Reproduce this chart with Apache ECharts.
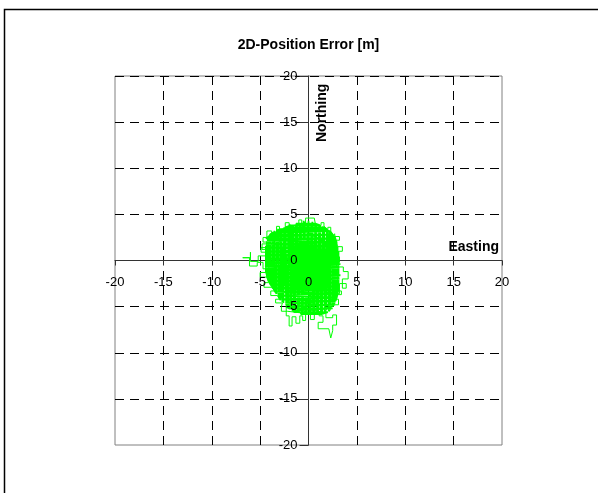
<!DOCTYPE html>
<html>
<head>
<meta charset="utf-8">
<script src="https://cdn.jsdelivr.net/npm/echarts@6/dist/echarts.min.js"></script>
<style>
  html, body { margin: 0; padding: 0; background: #fff; }
  #chart { width: 598px; height: 493px; }
</style>
</head>
<body>
<div id="chart"></div>
<script>
// Text and axis range
const chartTitle = '2D-Position Error [m]';
const eastName = 'Easting';
const northName = 'Northing';
const axisMin = -20;
const axisMax = 20;
const axisStep = 5;

// Position error trace, [east, north] in metres, split into sections of the track
const sweepNorthSouthA = [
  [-4.3, 2.1], [-4.3, -1.7], [-4.1, -2.3], [-4.1, 2.6], [-3.9, 2.9], [-3.9, -2.4],
  [-3.7, -3.0], [-3.7, 2.8], [-3.5, 3.2], [-3.5, -3.3], [-3.3, -3.6], [-3.3, 3.1],
  [-3.1, 3.4], [-3.1, -3.9], [-2.9, -4.3], [-2.9, 3.5], [-2.7, 3.3], [-2.7, -4.5],
  [-2.5, -4.7], [-2.5, 3.6], [-2.3, 3.8], [-2.3, -4.8], [-2.1, -5.1], [-2.1, 3.6],
  [-1.9, 3.9], [-1.9, -5.3], [-1.7, -5.4], [-1.7, 3.8], [-1.5, 4.0], [-1.5, -5.5],
  [-1.3, -5.7], [-1.3, 3.9], [-1.1, 4.1], [-1.1, -5.6], [-0.9, -5.8], [-0.9, 4.0],
  [-0.7, 4.2], [-0.7, -5.7], [-0.5, -5.9], [-0.5, 4.3], [-0.3, 4.2], [-0.3, -5.8],
  [-0.1, -5.9], [-0.1, 4.1], [0.1, 4.3], [0.1, -5.7], [0.3, -5.9], [0.3, 4.0],
  [0.5, 4.1], [0.5, -5.8], [0.7, -5.6], [0.7, 3.9], [0.9, 4.0], [0.9, -5.8],
  [1.1, -5.6], [1.1, 3.9], [1.3, 3.8], [1.3, -5.7], [1.5, -5.5], [1.5, 3.7],
  [1.7, 3.6], [1.7, -5.6], [1.9, -5.4], [1.9, 3.4], [2.1, 3.3], [2.1, -5.5],
  [2.3, -5.2], [2.3, 3.1], [2.5, 2.8], [2.5, -5.0], [2.7, -4.6], [2.7, 2.5],
  [2.9, 2.0], [2.9, -4.1], [3.1, -3.1], [3.1, 0.9]
];

const sweepEastWest = [
  [-1.3, 4.0], [0.7, 4.0], [1.2, 3.8], [-1.8, 3.8], [-2.4, 3.6], [1.6, 3.6],
  [1.9, 3.4], [-2.9, 3.4], [-3.3, 3.2], [2.2, 3.2], [2.4, 3.0], [-3.7, 3.0],
  [-4.0, 2.8], [2.5, 2.8], [2.6, 2.6], [-4.1, 2.6], [-4.4, 2.4], [2.8, 2.4],
  [2.7, 2.2], [-4.3, 2.2], [-4.2, 2.0], [2.9, 2.0], [2.8, 1.8], [-4.4, 1.8],
  [-4.3, 1.6], [3.0, 1.6], [2.9, 1.4], [-4.2, 1.4], [-4.4, 1.2], [3.0, 1.2],
  [3.1, 1.0], [-4.3, 1.0], [-4.5, 0.8], [3.0, 0.8], [3.2, 0.6], [-4.4, 0.6],
  [-4.2, 0.4], [3.1, 0.4], [3.3, 0.2], [-4.4, 0.2], [-4.5, 0.0], [3.1, 0.0],
  [3.2, -0.2], [-4.3, -0.2], [-4.4, -0.4], [3.3, -0.4], [3.1, -0.6], [-4.5, -0.6],
  [-4.3, -0.8], [3.2, -0.8], [3.3, -1.0], [-4.4, -1.0], [-4.2, -1.2], [3.1, -1.2],
  [3.2, -1.4], [-4.3, -1.4], [-4.1, -1.6], [3.3, -1.6], [3.1, -1.8], [-4.2, -1.8],
  [-4.0, -2.0], [3.2, -2.0], [3.0, -2.2], [-3.9, -2.2], [-4.0, -2.4], [3.1, -2.4],
  [3.0, -2.6], [-3.8, -2.6], [-3.6, -2.8], [3.1, -2.8], [2.9, -3.0], [-3.5, -3.0],
  [-3.3, -3.2], [3.0, -3.2], [2.9, -3.4], [-3.2, -3.4], [-3.0, -3.6], [2.8, -3.6],
  [2.9, -3.8], [-2.9, -3.8], [-2.8, -4.0], [2.8, -4.0], [2.7, -4.2], [-2.6, -4.2],
  [-2.6, -4.4], [2.8, -4.4], [2.6, -4.6], [-2.4, -4.6], [-2.3, -4.8], [2.7, -4.8],
  [2.6, -5.0], [-2.3, -5.0], [-2.0, -5.2], [2.5, -5.2], [2.3, -5.4], [-1.7, -5.4],
  [-1.4, -5.6], [2.0, -5.6], [1.4, -5.8], [-0.8, -5.8]
];

const sweepNorthSouthB = [
  [3.0, 1.5], [3.0, -3.6], [2.8, -4.4], [2.8, 2.3], [2.6, 2.7], [2.6, -4.9],
  [2.4, -5.1], [2.4, 2.9], [2.2, 3.2], [2.2, -5.3], [2.0, -5.5], [2.0, 3.3],
  [1.8, 3.5], [1.8, -5.4], [1.6, -5.6], [1.6, 3.7], [1.4, 3.6], [1.4, -5.7],
  [1.2, -5.5], [1.2, 3.8], [1.0, 3.9], [1.0, -5.8], [0.8, -5.6], [0.8, 4.0],
  [0.6, 3.9], [0.6, -5.7], [0.4, -5.8], [0.4, 4.2], [0.2, 4.0], [0.2, -5.9],
  [0.0, -5.7], [0.0, 4.3], [-0.2, 4.1], [-0.2, -5.8], [-0.4, -5.7], [-0.4, 4.2],
  [-0.6, 4.3], [-0.6, -5.9], [-0.8, -5.7], [-0.8, 4.1], [-1.0, 4.0], [-1.0, -5.6],
  [-1.2, -5.7], [-1.2, 4.1], [-1.4, 3.9], [-1.4, -5.5], [-1.6, -5.4], [-1.6, 3.9],
  [-1.8, 3.8], [-1.8, -5.3], [-2.0, -5.2], [-2.0, 3.7], [-2.2, 3.6], [-2.2, -5.0],
  [-2.4, -4.8], [-2.4, 3.5], [-2.6, 3.6], [-2.6, -4.6], [-2.8, -4.4], [-2.8, 3.4],
  [-3.0, 3.3], [-3.0, -4.0], [-3.2, -3.8], [-3.2, 3.2], [-3.4, 3.1], [-3.4, -3.4],
  [-3.6, -3.1], [-3.6, 3.0], [-3.8, 2.8], [-3.8, -2.8], [-4.0, -2.5], [-4.0, 2.7],
  [-4.2, 2.4], [-4.2, -2.0], [-4.4, -1.2], [-4.4, 1.6]
];

const eastSpikes = [
  [2.5, 2.6], [2.7, 2.6], [2.7, 2.9], [2.9, 2.9], [2.9, 1.5], [2.6, 1.5],
  [2.6, 0.4], [3.2, 0.4], [3.2, -0.2], [2.9, -0.2], [2.9, -0.7], [3.6, -0.7],
  [3.6, -1.2], [4.1, -1.2], [4.1, -2.0], [3.5, -2.0], [3.5, -3.0], [3.9, -3.0],
  [3.9, -2.5], [3.2, -2.5], [3.2, -3.6], [2.7, -3.6]
];

const southTail = [
  [1.8, -5.4], [1.8, -6.2], [2.5, -6.2], [2.5, -5.9], [2.9, -5.9], [2.9, -7.0],
  [2.5, -7.0], [2.5, -7.6], [2.3, -7.6], [2.3, -8.4], [2.1, -8.4], [2.1, -7.4],
  [1.0, -7.4], [1.0, -6.7], [1.5, -6.7], [1.5, -6.0], [1.1, -6.0], [1.1, -5.5]
];

const southwestSpikes = [
  [-2.3, -4.9], [-2.3, -6.0], [-2.0, -6.0], [-2.0, -7.1], [-1.7, -7.1], [-1.7, -6.1],
  [-1.3, -6.1], [-1.3, -6.8], [-0.9, -6.8], [-0.9, -6.0], [-0.6, -6.0], [-0.6, -6.5],
  [-0.3, -6.5], [-0.3, -5.7]
];

const westLoop = [
  [-4.2, 0.5], [-5.2, 0.5], [-5.2, -0.1], [-6.0, -0.1], [-6.0, 0.9], [-6.0, 0.3],
  [-6.8, 0.3], [-6.1, 0.3], [-6.1, -0.6], [-5.3, -0.6], [-5.3, -0.2], [-4.7, -0.2],
  [-4.7, -0.9], [-4.1, -0.9], [-4.1, 1.8], [-4.8, 1.8], [-4.8, 1.2], [-4.2, 1.2]
];

const northLoop = [
  [-0.3, 3.9], [-0.3, 4.6], [0.6, 4.6], [0.6, 4.4], [0.8, 4.4], [0.8, 3.4],
  [0.3, 3.4], [0.3, 3.8], [1.0, 3.8]
];

const rimSpikes = [
  [1.3, 3.8], [1.3, 4.1], [1.6, 4.1], [1.6, 3.7], [2.0, 3.3], [2.0, 3.6],
  [2.3, 3.6], [2.3, 3.1], [2.7, 2.6], [3.2, 2.6], [3.2, 2.2], [2.8, 2.2],
  [3.0, 1.5], [3.5, 1.5], [3.5, 1.0], [3.1, 1.0], [3.0, -3.3], [3.4, -3.3],
  [3.4, -3.7], [3.0, -3.7], [2.8, -4.2], [3.1, -4.2], [3.1, -4.8], [2.7, -4.8],
  [0.6, -5.8], [0.6, -6.4], [0.2, -6.4], [0.2, -5.8], [-2.2, -5.5], [-2.8, -5.5],
  [-2.8, -5.0], [-2.6, -5.0], [-2.7, -4.6], [-3.4, -4.6], [-3.4, -4.2], [-3.0, -4.2],
  [-3.2, -3.8], [-3.9, -3.8], [-3.9, -3.3], [-3.5, -3.3], [-3.8, -2.9], [-4.6, -2.9],
  [-4.6, -2.4], [-4.1, -2.4], [-4.3, -1.8], [-5.0, -1.8], [-5.0, -1.3], [-4.4, -1.3],
  [-4.4, 0.9], [-4.9, 0.9], [-4.9, 1.4], [-4.3, 1.4], [-4.3, 2.0], [-4.7, 2.0],
  [-4.7, 2.5], [-4.3, 2.5], [-4.3, 3.2], [-3.8, 3.2], [-3.8, 2.8], [-3.3, 3.0],
  [-3.3, 3.7], [-3.0, 3.7], [-3.0, 3.3], [-2.4, 3.5], [-2.4, 4.1], [-2.0, 4.1],
  [-2.0, 3.7], [-1.0, 3.9], [-1.0, 4.4], [-0.7, 4.4], [-0.7, 3.9]
];

const coreTrack = [].concat(sweepNorthSouthA, sweepEastWest, sweepNorthSouthB);
const edgeTrack = [].concat(eastSpikes, southTail, southwestSpikes, westLoop, northLoop, rimSpikes);

const FONT = '"Liberation Sans", Arial, sans-serif';
const TRACE = '#00ff00';

// Plot box in pixels
const PLOT = { left: 115, top: 76, width: 387, height: 369 };

const chart = echarts.init(document.getElementById('chart'), null, { renderer: 'canvas' });

const dashStyle = { color: '#000', width: 1, type: [9, 6] };

// The label-only axes sit above the trace; they are moved onto the crossing
// lines with offsets because a second axis cannot share onZero.
chart.setOption({
  animation: false,
  backgroundColor: '#fff',
  grid: {
    left: PLOT.left, top: PLOT.top, width: PLOT.width, height: PLOT.height,
    show: true, borderColor: '#808080', borderWidth: 1
  },
  xAxis: [
    {
      type: 'value', min: axisMin, max: axisMax, interval: axisStep, position: 'bottom',
      axisLine: { show: true, onZero: true, lineStyle: { color: '#333', width: 1 } },
      axisTick: { show: true, length: 5, lineStyle: { color: '#333' } },
      axisLabel: { show: false },
      splitLine: { show: true, showMinLine: false, showMaxLine: false, lineStyle: dashStyle },
      z: 0
    },
    {
      type: 'value', min: axisMin, max: axisMax, interval: axisStep, position: 'bottom',
      offset: -PLOT.height / 2,
      axisLine: { show: false, onZero: false },
      axisTick: { show: false },
      axisLabel: { show: true, margin: 15, color: '#000', fontSize: 13, fontFamily: FONT },
      splitLine: { show: false },
      z: 10
    }
  ],
  yAxis: [
    {
      type: 'value', min: axisMin, max: axisMax, interval: axisStep, position: 'left',
      axisLine: { show: true, onZero: true, lineStyle: { color: '#333', width: 1 } },
      axisTick: { show: true, length: 9, lineStyle: { color: '#333' } },
      axisLabel: { show: false },
      splitLine: { show: true, showMinLine: false, showMaxLine: true, lineStyle: dashStyle },
      z: 0
    },
    {
      type: 'value', min: axisMin, max: axisMax, interval: axisStep, position: 'left',
      offset: -PLOT.width / 2,
      axisLine: { show: false, onZero: false },
      axisTick: { show: false },
      axisLabel: { show: true, margin: 11, color: '#000', fontSize: 13, fontFamily: FONT },
      splitLine: { show: false },
      z: 10
    }
  ],
  series: [
    {
      type: 'line', xAxisIndex: 0, yAxisIndex: 0,
      data: coreTrack,
      symbol: 'none', showSymbol: false, silent: true, z: 2,
      lineStyle: { color: TRACE, width: 1.8 }
    },
    {
      type: 'line', xAxisIndex: 0, yAxisIndex: 0,
      data: edgeTrack,
      symbol: 'none', showSymbol: false, silent: true, z: 2,
      lineStyle: { color: TRACE, width: 1 }
    }
  ],
  graphic: [
    {
      type: 'rect', silent: true, z: -10,
      shape: { x: 4.5, y: 9.5, width: 700, height: 600 },
      style: { fill: 'none', stroke: '#000', lineWidth: 1.5 }
    },
    {
      type: 'text', x: 308.5, y: 45, silent: true,
      style: { text: chartTitle, font: 'bold 14px ' + FONT, fill: '#000',
               align: 'center', verticalAlign: 'middle', textAlign: 'center', textVerticalAlign: 'middle' }
    },
    {
      type: 'text', x: 499, y: 247, silent: true, z: 20,
      style: { text: eastName, font: 'bold 14px ' + FONT, fill: '#000',
               align: 'right', verticalAlign: 'middle', textAlign: 'right', textVerticalAlign: 'middle' }
    },
    {
      type: 'text', x: 322, y: 142, rotation: Math.PI / 2, silent: true, z: 20,
      style: { text: northName, font: 'bold 14px ' + FONT, fill: '#000',
               align: 'left', verticalAlign: 'middle', textAlign: 'left', textVerticalAlign: 'middle' }
    }
  ]
});
</script>
</body>
</html>
